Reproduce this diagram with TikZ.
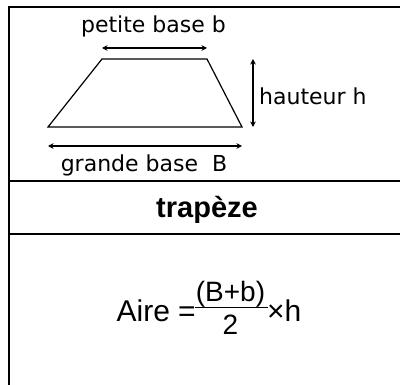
\documentclass[tikz,border=0pt]{standalone}
\usepackage{fontspec}
\setmainfont{Liberation Sans}
\newfontfamily\pixfont{DejaVu Sans}
\usetikzlibrary{arrows.meta}
\begin{document}
\begin{tikzpicture}[x=1pt,y=-1pt,
  rule/.style={line width=2pt},
  trapline/.style={line width=1.2pt},
  dim/.style={line width=1.4pt,{Stealth[length=5.5pt,width=5.5pt]}-{Stealth[length=5.5pt,width=5.5pt]}},
  pix/.style={font=\pixfont\fontsize{22}{25}\selectfont,inner sep=0pt},
  big/.style={font=\fontsize{29}{34}\selectfont,inner sep=0pt}]
\useasboundingbox (0,0) rectangle (400,385);
% table
\coordinate (tl) at (8.8,6.6);
\coordinate (tr) at (401,6.6);
\coordinate (bl) at (8.8,386);
\coordinate (r1l) at (8.8,181);
\coordinate (r1r) at (401,181);
\coordinate (r2l) at (8.8,234);
\coordinate (r2r) at (401,234);
\draw[rule] (tr) -- (tl) -- (bl);
\draw[rule] (r1l) -- (r1r);
\draw[rule] (r2l) -- (r2r);
% trapezoid
\coordinate (A) at (48,127);
\coordinate (B) at (242,127);
\coordinate (C) at (207,59);
\coordinate (D) at (102,59);
\draw[trapline] (A) -- (B) -- (C) -- (D) -- cycle;
% dimension arrows
\coordinate (sa) at (102,48);
\coordinate (sb) at (207,48);
\coordinate (ga) at (48,146);
\coordinate (gb) at (242,146);
\coordinate (ha) at (253,59);
\coordinate (hb) at (253,127);
\draw[dim] (sa) -- (sb);
\draw[dim] (ga) -- (gb);
\draw[dim] (ha) -- (hb);
% labels
\node[pix,anchor=base] (lb) at (153.5,33) {petite base b};
\node[pix,anchor=base west] (lh) at (259,105) {hauteur h};
\node[pix,anchor=base] (lB) at (144,172) {grande base\ \ B};
\node[big,anchor=base,font=\bfseries\fontsize{29}{34}\selectfont] (title) at (207,218) {trapèze};
% formula
\node[big,anchor=base east,font=\fontsize{30}{34}\selectfont] (aire) at (196,322) {Aire =};
\node[big,anchor=base,font=\fontsize{28}{34}\selectfont] (num) at (230.5,302) {(B+b)};
\node[big,anchor=base,font=\fontsize{28}{34}\selectfont] (den) at (230.5,335) {2};
\coordinate (fa) at (195,307.7);
\coordinate (fb) at (267.5,307.7);
\draw[line width=1.3pt] (fa) -- (fb);
\node[big,anchor=base west,font=\fontsize{30}{34}\selectfont] (xh) at (267,322) {×h};
\end{tikzpicture}
\end{document}
